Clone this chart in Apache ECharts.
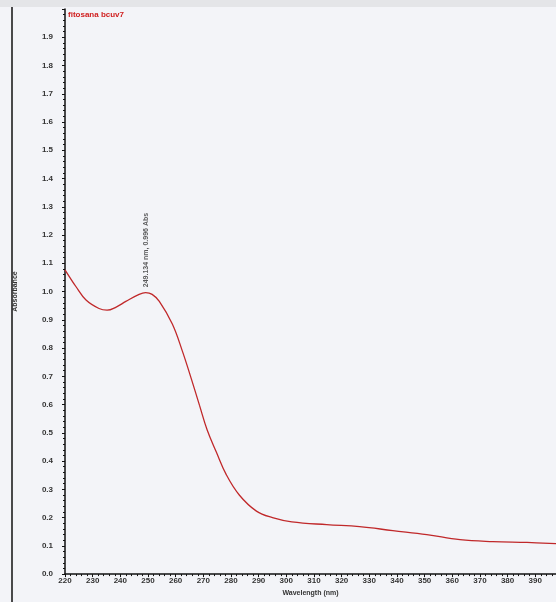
<!DOCTYPE html>
<html>
<head>
<meta charset="utf-8">
<script src="https://cdn.jsdelivr.net/npm/echarts@6/dist/echarts.min.js"></script>
<style>
  html, body { margin: 0; padding: 0; background: #f3f4f8; }
  #chart { width: 556px; height: 602px; }
</style>
</head>
<body>
<div id="chart"></div>
<script>
// wavelength (nm) and absorbance
var wavelength = [220, 224, 227.6, 232.3, 235.2, 238.5, 242, 246.8, 249.134, 251.5, 254.1, 258.8, 262.4, 265.7, 268.6, 271.4, 274.7, 278.3, 283, 289.2, 295, 302, 314.6, 326.5, 338.5, 350.8, 362.8, 374.7, 387, 397.5];
var absorbance = [1.077, 1.017, 0.97, 0.94, 0.934, 0.945, 0.965, 0.99, 0.996, 0.99, 0.965, 0.885, 0.79, 0.69, 0.598, 0.51, 0.432, 0.352, 0.28, 0.223, 0.2, 0.185, 0.175, 0.168, 0.154, 0.14, 0.122, 0.115, 0.112, 0.108];
var peakWavelength = 249.134;
var peakAbsorbance = 0.996;
var peakText = '249.134 nm, 0.996 Abs';
var sampleName = 'fitosana bcuv7';

var chart = echarts.init(document.getElementById('chart'));

var points = [];
for (var i = 0; i < wavelength.length; i++) {
  points.push([wavelength[i], absorbance[i]]);
}

var labelStyle = { fontSize: 8, fontWeight: 'bold', color: '#333', fontFamily: 'Liberation Sans' };

var option = {
  backgroundColor: '#f3f4f8',
  animation: false,
  title: {
    text: sampleName,
    left: 63,
    top: 6,
    textStyle: { fontSize: 8, fontWeight: 'bold', color: '#d02020', fontFamily: 'Liberation Sans' }
  },
  grid: { left: 65, right: 0, top: 9, bottom: 21 },
  xAxis: {
    type: 'value',
    min: 220,
    max: 397.5,
    interval: 10,
    name: 'Wavelength (nm)',
    nameLocation: 'middle',
    nameGap: 12,
    nameTextStyle: { fontSize: 7, fontWeight: 'bold', color: '#333', fontFamily: 'Liberation Sans' },
    axisLine: { lineStyle: { color: '#111', width: 1.5 } },
    axisTick: { show: true, length: 3, lineStyle: { color: '#111' } },
    minorTick: { show: true, splitNumber: 5, length: 2, lineStyle: { color: '#111' } },
    axisLabel: Object.assign({ margin: 3, showMaxLabel: false }, labelStyle),
    splitLine: { show: false }
  },
  yAxis: {
    type: 'value',
    min: 0,
    max: 2.0,
    interval: 0.1,
    name: 'Absorbance',
    nameLocation: 'middle',
    nameGap: 46,
    nameTextStyle: { fontSize: 7, fontWeight: 'bold', color: '#333', fontFamily: 'Liberation Sans' },
    axisLine: { show: true, lineStyle: { color: '#111', width: 1.5 } },
    axisTick: { show: true, length: 3, lineStyle: { color: '#111' } },
    minorTick: { show: true, splitNumber: 5, length: 2, lineStyle: { color: '#111' } },
    axisLabel: Object.assign({
      margin: 12,
      showMaxLabel: false,
      formatter: function (v) { return v.toFixed(1); }
    }, labelStyle),
    splitLine: { show: false }
  },
  series: [{
    type: 'line',
    data: points,
    smooth: 0.4,
    symbol: 'none',
    lineStyle: { color: '#c0282a', width: 1.3 }
  }, {
    // peak annotation, written upward above the maximum
    type: 'scatter',
    data: [[peakWavelength, peakAbsorbance]],
    symbolSize: 1,
    itemStyle: { color: 'rgba(0,0,0,0)' },
    label: {
      show: true,
      formatter: peakText,
      position: 'top',
      distance: 5,
      rotate: 90,
      align: 'left',
      verticalAlign: 'middle',
      fontSize: 7,
      fontWeight: 'bold',
      color: '#333',
      fontFamily: 'Liberation Sans'
    }
  }],
  // scan frame: gray strip at top and black border on the left
  graphic: [
    { type: 'rect', shape: { x: 0, y: 0, width: 556, height: 7 }, style: { fill: '#e4e5e8' }, silent: true },
    { type: 'line', shape: { x1: 12, y1: 7, x2: 12, y2: 602 }, style: { stroke: '#111', lineWidth: 1.5 }, silent: true }
  ]
};

chart.setOption(option);
</script>
</body>
</html>
